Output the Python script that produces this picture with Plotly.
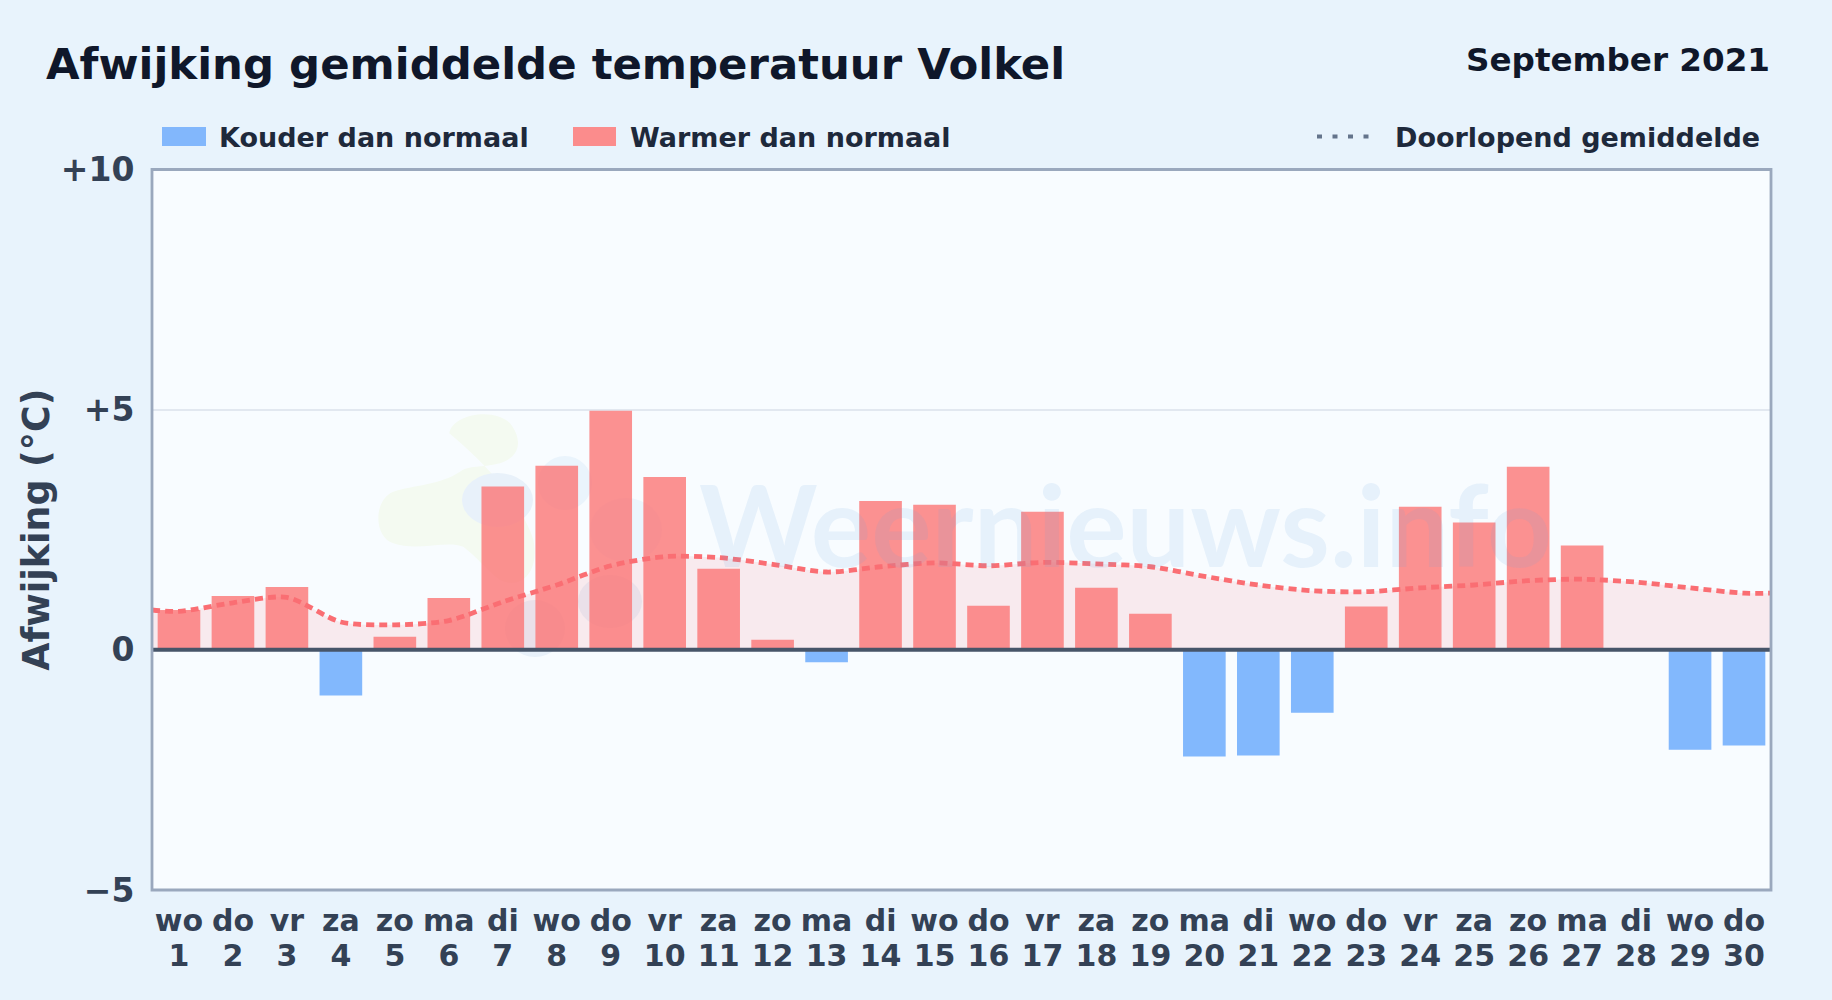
import plotly.graph_objects as go

days = list(range(1, 31))
weekdays = ["wo","do","vr","za","zo","ma","di","wo","do","vr","za","zo","ma","di","wo","do","vr","za","zo","ma","di","wo","do","vr","za","zo","ma","di","wo","do"]
deviation = [0.83,1.12,1.31,-0.95,0.27,1.08,3.40,3.83,4.98,3.60,1.69,0.21,-0.26,3.10,3.02,0.92,2.875,1.29,0.75,-2.22,-2.20,-1.31,0.90,2.98,2.65,3.81,2.17,0.0,-2.08,-1.99]
avg_x = [0.5] + days + [30.5]
running_avg = [0.83,0.80,0.98,1.09,0.58,0.52,0.61,1.00,1.35,1.75,1.94,1.92,1.78,1.62,1.73,1.81,1.75,1.82,1.79,1.73,1.53,1.35,1.23,1.21,1.29,1.35,1.44,1.47,1.41,1.29,1.18,1.18]
y_ticks = [-5, 0, 5, 10]
y_labels = ["−5", "0", "+5", "+10"]

W, H = 1832, 1000
L, R, T, B = 152, 1771, 169.5, 890
FONT = "DejaVu Sans"
px = lambda x: x / W
py = lambda y: 1 - y / H

fig = go.Figure()
fig.add_trace(go.Scatter(x=avg_x, y=running_avg, mode="lines", line=dict(width=0, shape="spline", smoothing=0.8),
                         fill="tozeroy", fillcolor="rgba(244,114,120,0.13)", hoverinfo="skip", showlegend=False))
fig.add_trace(go.Bar(x=days, y=deviation, width=0.79, xaxis="x2", yaxis="y2", showlegend=False,
                     marker=dict(line_width=0, color=["rgba(251,117,117,0.8)" if v >= 0 else "rgba(100,166,252,0.8)" for v in deviation])))
fig.add_trace(go.Scatter(x=avg_x, y=running_avg, mode="lines", xaxis="x2", yaxis="y2", showlegend=False,
                         line=dict(color="#fa6e73", width=4.8, dash="8px,5px", shape="spline", smoothing=0.8)))

def blob(points, color):
    # decorative watermark outline, given in zoomed pixel units
    s = ""
    for i, p in enumerate(points):
        xy = [(px(360 + p[j] / 3), py(400 + p[j + 1] / 3)) for j in range(0, len(p), 2)]
        if i == 0:
            s += f"M{xy[0][0]},{xy[0][1]}"
        else:
            s += "C" + " ".join(f"{a},{b}" for a, b in xy)
    return dict(type="path", xref="paper", yref="paper", path=s + "Z", fillcolor=color, line_width=0, layer="below")

def ell(x0, y0, x1, y1, color):
    return dict(type="circle", xref="paper", yref="paper", x0=px(x0), x1=px(x1), y0=py(y0), y1=py(y1),
                fillcolor=color, line_width=0, layer="below")

shapes = [
    blob([(268,100),(275,45,400,20,450,70),(490,120,480,170,420,190),(360,205,330,195,300,215),
          (240,255,160,255,100,275),(40,300,40,410,100,430),(170,455,260,420,310,440),
          (350,470,380,510,420,540),(480,570,540,520,520,420),(510,380,450,250,268,100)], "#f4faf1"),
    ell(462, 473, 533, 527, "#e8f1fa"),
    ell(538, 456, 592, 510, "#eaf4fc"),
    ell(590, 498, 662, 562, "#ebf5fd"),
    ell(578, 575, 642, 628, "#e8f1fa"),
    ell(505, 600, 565, 657, "#e8f1fa"),
    dict(type="rect", xref="paper", yref="paper", x0=px(162), x1=px(206), y0=py(127), y1=py(146),
         fillcolor="#82b7fc", line_width=0),
    dict(type="rect", xref="paper", yref="paper", x0=px(573), x1=px(616), y0=py(127), y1=py(146),
         fillcolor="#fb8c8c", line_width=0),
    dict(type="line", xref="paper", yref="paper", x0=px(1317), x1=px(1373), y0=py(136.5), y1=py(136.5),
         line=dict(color="#64748b", width=4.2, dash="5px,10.5px")),
    dict(type="line", xref="x", yref="y", x0=0.5, x1=30.5, y0=0, y1=0, line=dict(color="#475569", width=4)),
    dict(type="rect", xref="paper", yref="paper", x0=px(L), x1=px(R), y0=py(B), y1=py(T),
         line=dict(color="#9aa8bd", width=2.8), fillcolor="rgba(0,0,0,0)"),
]

def text(x, y, s, size, color, anchor="left"):
    return dict(x=px(x), y=py(y), xref="paper", yref="paper", text=s, showarrow=False, xanchor=anchor, yanchor="middle",
                font=dict(family=FONT, size=size, color=color, weight=700))

annotations = [
    text(44, 64, "Afwijking gemiddelde temperatuur Volkel", 43.4, "#0f172a"),
    text(1772, 60, "September 2021", 32.6, "#0f172a", "right"),
    text(217, 137, "Kouder dan normaal", 27, "#1e293b"),
    text(628, 137, "Warmer dan normaal", 27, "#1e293b"),
    text(1762, 137, "Doorlopend gemiddelde", 27, "#1e293b", "right"),
    dict(x=px(697), y=py(523), xref="paper", yref="paper", text="Weernieuws.info", showarrow=False, xanchor="left", yanchor="middle",
         font=dict(family="Lato", size=113, color="rgba(110,165,220,0.12)", weight=700)),
]

tick_font = dict(size=30, color="#334155", weight=700)
fig.update_layout(
    width=W, height=H, margin=dict(l=0, r=0, t=0, b=0, autoexpand=False), autosize=False,
    paper_bgcolor="#e8f3fc", plot_bgcolor="#f8fcff", bargap=0.2, showlegend=False,
    font=dict(family=FONT),
    shapes=shapes, annotations=annotations,
    xaxis=dict(domain=[px(L), px(R)], range=[0.5, 30.5], tickmode="array", tickvals=days, ticktext=weekdays,
               ticks="outside", ticklen=4, tickcolor="rgba(0,0,0,0)",
               tickfont=tick_font, showgrid=False, zeroline=False, automargin=False, showline=False),
    yaxis=dict(domain=[py(B), py(T)], range=[-5, 10], tickmode="array", tickvals=y_ticks, ticktext=y_labels,
               ticks="outside", ticklen=10, tickcolor="rgba(0,0,0,0)",
               tickfont=dict(size=33, color="#334155", weight=700), gridcolor="#e2e8f0", gridwidth=2, zeroline=False, automargin=False, showline=False,
               title=dict(text="Afwijking (°C)", standoff=0, font=dict(size=36.4, color="#334155", weight=700))),
    xaxis2=dict(overlaying="x", matches="x", anchor="y2", side="bottom", tickmode="array", tickvals=days, ticktext=days,
                ticks="outside", ticklen=39, tickcolor="rgba(0,0,0,0)", tickfont=tick_font, automargin=False,
                showgrid=False, zeroline=False, showline=False),
    yaxis2=dict(overlaying="y", matches="y", visible=False),
)

fig.write_html("out.html", config=dict(displayModeBar=False),
               post_script="document.body.style.margin='0';document.documentElement.style.background='#e8f3fc';")
